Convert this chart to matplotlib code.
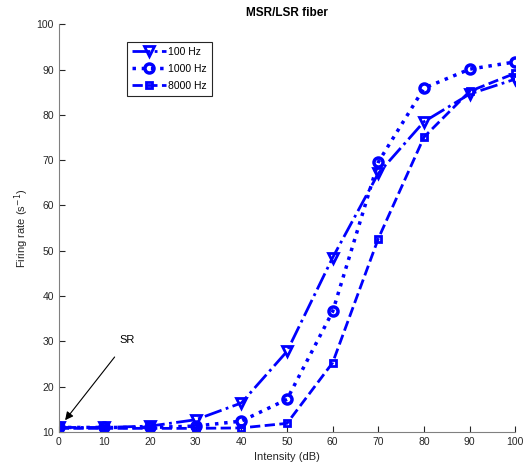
import matplotlib.pyplot as plt

plt.rcParams['font.family'] = ['Liberation Sans', 'DejaVu Sans']

# Rate-level data for the MSR/LSR fiber
intensity = [0, 10, 20, 30, 40, 50, 60, 70, 80, 90, 100]
rate_100 = [11.0, 11.0, 11.3, 12.7, 16.4, 27.8, 48.5, 67.1, 78.5, 84.6, 87.9]
rate_1000 = [11.0, 11.0, 11.0, 11.3, 12.4, 17.2, 36.6, 69.6, 85.9, 90.1, 91.7]
rate_8000 = [10.8, 10.8, 10.8, 10.8, 10.9, 11.9, 25.3, 52.7, 75.1, 85.2, 89.2]

fig = plt.figure(figsize=(5.26, 4.70), dpi=100)
ax = fig.add_axes([0.1116, 0.0809, 0.8681, 0.8674])

ax.plot(intensity, rate_100, color='blue', linestyle='-.', linewidth=2,
        marker='v', markersize=6.5, markerfacecolor='none', markeredgewidth=2,
        label='100 Hz')
ax.plot(intensity, rate_1000, color='blue', linestyle=':', linewidth=2.5,
        marker='o', markersize=6.5, markerfacecolor='none', markeredgewidth=2.5,
        label='1000 Hz')
ax.plot(intensity, rate_8000, color='blue', linestyle='--', linewidth=2,
        marker='s', markersize=5, markerfacecolor='none', markeredgewidth=2,
        label='8000 Hz')

# spontaneous rate marker
ax.annotate('SR', xy=(1.4, 12.6), xytext=(13.4, 30.2), fontsize=8,
            va='center', ha='left',
            arrowprops=dict(arrowstyle='-|>', color='black', lw=0.8,
                            shrinkA=8, shrinkB=0, mutation_scale=12))

ax.set_xlim(0, 100)
ax.set_ylim(10, 100)
ax.set_xticks(range(0, 101, 10))
ax.set_yticks(range(10, 101, 10))
ax.tick_params(direction='in', length=4, labelsize=7.5, color='#262626',
               labelcolor='#262626')
for side in ['top', 'right']:
    ax.spines[side].set_visible(False)
for side in ['left', 'bottom']:
    ax.spines[side].set_color('#808080')

ax.set_title('MSR/LSR fiber', fontsize=8.5, fontweight='bold', pad=6)
ax.set_xlabel('Intensity (dB)', fontsize=8, color='#262626')
ax.set_ylabel('Firing rate (s$^{-1}$)', fontsize=8, color='#262626')

leg = ax.legend(loc='upper left', bbox_to_anchor=(0.15, 0.957), fontsize=7.5,
                fancybox=False, framealpha=1, edgecolor='#262626',
                handlelength=3.2, borderpad=0.5, labelspacing=0.65,
                handletextpad=0.2, borderaxespad=0)
leg.get_frame().set_linewidth(0.8)

fig.savefig('out.png', dpi=100)
